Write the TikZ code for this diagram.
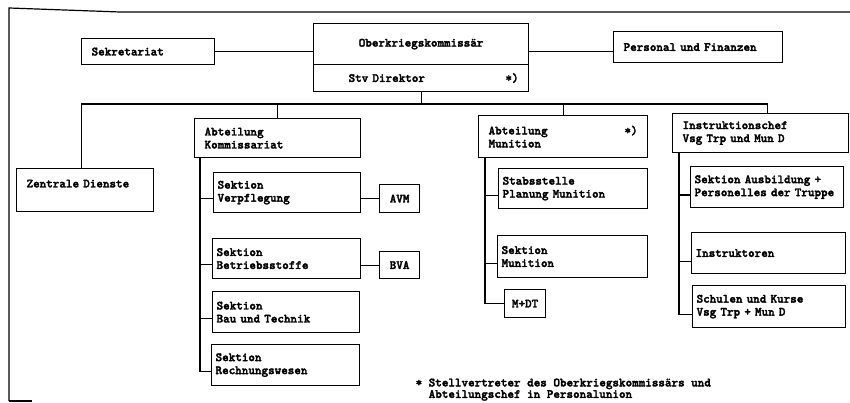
\documentclass[tikz,border=0pt]{standalone}
\usepackage{fontspec}
\newfontfamily\orgfont{lmmonolt10-bold.otf}[FakeBold=2.5]

\tikzset{
  box/.style={draw, line width=1.2pt, anchor=north west, align=left,
    inner xsep=10pt, inner ysep=0pt},
  subbox/.style={box, inner xsep=4pt},
  tag/.style={draw, line width=1.2pt, anchor=north west, align=center,
    inner sep=0pt},
}

\begin{document}
\begin{tikzpicture}[x=1pt, y=-1pt, line width=1.2pt,
  font=\orgfont\fontsize{12.5}{13}\selectfont]

  \useasboundingbox (0,0) rectangle (850,403);

  % frame of the scanned page
  \draw (9,401) -- (9,8) -- (120,12) -- (850,12);
  \draw (9,401) -- (32,401);

  % top level
  \node (ober) at (313,23) [tag, minimum width=215pt, minimum height=41pt] {Oberkriegskommissär};
  \node (stv) at (313,64) [box, text width=195pt, minimum height=27pt] {\hspace*{25pt}Stv Direktor\hfill*)\hspace*{7pt}};
  \node (sek) at (81,38) [box, text width=113pt, minimum height=26pt] {Sekretariat};
  \node (pers) at (613,31) [box, text width=149pt, minimum height=31pt] {Personal und Finanzen};

  \draw (sek.east) -- (sek.east -| ober.west);
  \draw (ober.east |- sek.east) -- (sek.east -| pers.west);

  % second level
  \coordinate (bus) at (0,104);
  \node (zd) at (16,168) [box, text width=117pt, minimum height=43pt] {Zentrale Dienste\\\mbox{}};
  \node (kom) at (194,118) [box, text width=146pt, minimum height=39pt] {Abteilung\\Kommissariat};
  \node (mun) at (478,115) [box, text width=149pt, minimum height=42pt] {Abteilung\hfill*)\hspace*{24pt}\\Munition};
  \node (inst) at (672,113) [box, text width=156pt, minimum height=39pt] {Instruktionschef\\Vsg Trp und Mun D};

  \draw (stv.south) -- (stv.south |- bus);
  \draw ([xshift=-4pt]zd.north) |- ([xshift=7pt]inst.north |- bus) -- ([xshift=7pt]inst.north);
  \draw (kom.north) -- (kom.north |- bus);
  \draw (mun.north) -- (mun.north |- bus);

  % Abteilung Kommissariat
  \node (verpf) at (213,172) [subbox, text width=139pt, minimum height=40pt] {Sektion\\Verpflegung};
  \node (betr) at (212,238) [subbox, text width=140pt, minimum height=40pt] {Sektion\\Betriebsstoffe};
  \node (bau) at (212,291) [subbox, text width=139pt, minimum height=41pt] {Sektion\\Bau und Technik};
  \node (rech) at (211,344) [subbox, text width=140pt, minimum height=41pt] {Sektion\\Rechnungswesen};
  \node (avm) at (379,184) [tag, minimum width=40pt, minimum height=28pt] {AVM};
  \node (bva) at (379,251) [tag, minimum width=40pt, minimum height=27pt] {BVA};

  \coordinate (kspine) at ([xshift=6pt]kom.south west);
  \foreach \n in {verpf,betr,bau,rech}
    \draw (kspine) |- ([yshift=-6pt]\n.west);
  \draw (avm.west) -- (avm.west -| verpf.east);
  \draw (bva.west) -- (bva.west -| betr.east);

  % Abteilung Munition
  \node (stab) at (498,168) [subbox, text width=141pt, minimum height=40pt] {Stabsstelle\\Planung Munition};
  \node (smun) at (497,235) [subbox, text width=142pt, minimum height=42pt] {Sektion\\Munition};
  \node (mdt) at (504,289) [tag, minimum width=41pt, minimum height=28pt] {M+DT};

  \coordinate (mspine) at ([xshift=7pt]mun.south west);
  \draw (mspine) |- ([yshift=-7pt]stab.west);
  \draw (mspine) |- ([yshift=-7pt]smun.west);
  \draw (mspine) |- (mdt.west);

  % Instruktionschef
  \node (ausb) at (690,166) [subbox, text width=145pt, minimum height=41pt] {Sektion Ausbildung +\\Personelles der Truppe};
  \node (instr) at (691,232) [subbox, text width=146pt, minimum height=41pt] {Instruktoren};
  \node (schul) at (692,285) [subbox, text width=145pt, minimum height=42pt] {Schulen und Kurse\\Vsg Trp + Mun D};

  \coordinate (ispine) at ([xshift=7pt]inst.south west);
  \foreach \n in {ausb,instr,schul}
    \draw (ispine) |- ([yshift=-8pt]\n.west);

  % footnote
  \node (fn) at (415,378) [anchor=north west, align=left, inner sep=0pt,
    font=\orgfont\fontsize{12.5}{11.5}\selectfont]
    {*~Stellvertreter des Oberkriegskommissärs und\\\phantom{*~}Abteilungschef in Personalunion};

\end{tikzpicture}
\end{document}
